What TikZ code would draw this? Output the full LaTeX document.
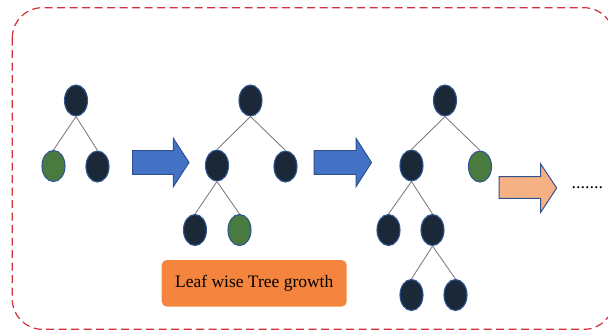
\documentclass[tikz,border=0pt]{standalone}
\usepackage{fontspec}
\setmainfont{Liberation Serif}
\usetikzlibrary{shapes.geometric}
\definecolor{nodedark}{HTML}{1B2838}
\definecolor{nodegreen}{HTML}{4A7B3E}
\definecolor{nodeedge}{HTML}{2F5590}
\definecolor{arrowblue}{HTML}{4472C4}
\definecolor{arrowedge}{HTML}{2F528F}
\definecolor{arroworange}{HTML}{F5B183}
\definecolor{labelorange}{HTML}{F4843E}
\definecolor{frame}{HTML}{D2323C}
\definecolor{edgegray}{HTML}{808080}
\tikzset{
  leaf/.style={ellipse, minimum width=23pt, minimum height=31pt, inner sep=0pt,
    draw=nodeedge, line width=1.1pt, fill=nodedark},
  gleaf/.style={leaf, fill=nodegreen},
  branch/.style={draw=edgegray, line width=0.9pt},
  bigarrow/.style={draw=arrowedge, line width=1pt, line join=miter},
}
\begin{document}
\begin{tikzpicture}[x=1pt,y=-1pt]
\useasboundingbox (0,0) rectangle (608,330);
% dashed frame
\begin{scope}
\clip (0,0) rectangle (608,330);
\draw[frame, line width=1.2pt, dash pattern=on 8pt off 4.5pt, rounded corners=30pt]
  (12.3,7.7) rectangle (614,329.3);
\end{scope}
% tree 1
\node[leaf]  (a0) at (76,100.5) {};
\node[gleaf] (a1) at (53.5,166) {};
\node[leaf]  (a2) at (97.5,166.5) {};
\draw[branch] (a0.south) -- (a1.north);
\draw[branch] (a0.south) -- (a2.north);
% tree 2
\node[leaf]  (b0) at (250.5,100.5) {};
\node[leaf]  (b1) at (217,165.5) {};
\node[leaf]  (b2) at (285.5,166.5) {};
\node[leaf]  (b3) at (195,230) {};
\node[gleaf] (b4) at (239.5,230) {};
\draw[branch] (b0.south) -- (b1.north);
\draw[branch] (b0.south) -- (b2.north);
\draw[branch] (b1.south) -- (b3.north);
\draw[branch] (b1.south) -- (b4.north);
% tree 3
\node[leaf]  (c0) at (445,100.5) {};
\node[leaf]  (c1) at (411.5,165.5) {};
\node[gleaf] (c2) at (480,166.5) {};
\node[leaf]  (c3) at (388.5,230) {};
\node[leaf]  (c4) at (432.5,230) {};
\node[leaf]  (c5) at (411.5,295) {};
\node[leaf]  (c6) at (455.5,295) {};
\draw[branch] (c0.south) -- (c1.north);
\draw[branch] (c0.south) -- (c2.north);
\draw[branch] (c1.south) -- (c3.north);
\draw[branch] (c1.south) -- (c4.north);
\draw[branch] (c4.south) -- (c5.north);
\draw[branch] (c4.south) -- (c6.north);
% arrows
\draw[bigarrow, fill=arrowblue] (132.6,150.7) -- (173.3,150.7) -- (173.3,138.3) -- (189,162.5)
  -- (173.3,186.7) -- (173.3,174.3) -- (132.6,174.3) -- cycle;
\draw[bigarrow, fill=arrowblue] (314,150.7) -- (356,150.7) -- (356,138.3) -- (371.5,162.5)
  -- (356,186.7) -- (356,174.3) -- (314,174.3) -- cycle;
\draw[bigarrow, fill=arroworange] (499,176.7) -- (540.7,176.7) -- (540.7,164) -- (556.7,188)
  -- (540.7,212.3) -- (540.7,198.3) -- (499,198.3) -- cycle;
% dots
\node[inner sep=0pt, anchor=base west, font=\fontsize{18}{20}\selectfont] (dots) at (571.5,188.5) {.......};
% label
\node[fill=labelorange, rounded corners=5pt, minimum width=185pt, minimum height=46.5pt,
  inner sep=0pt, font=\fontsize{17.5}{20}\selectfont] (label) at (254.2,283.3) {Leaf wise Tree growth};
\end{tikzpicture}
\end{document}
